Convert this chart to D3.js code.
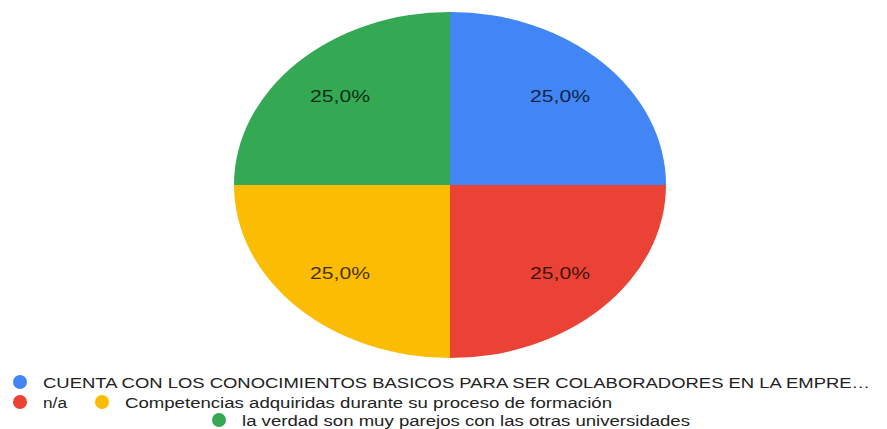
<!DOCTYPE html>
<html>
  <head>
    <style>
      html, body {
        padding: 0;
        margin: 0;
        overflow: hidden;
        background: #ffffff;
      }
      svg {
        display: block;
        font-family: "Liberation Sans", Arial, sans-serif;
      }
      .slice-label {
        font-size: 17px;
        fill: #000000;
        fill-opacity: 0.75;
      }
      .legend-text {
        font-size: 15.5px;
        fill: #222222;
      }
    </style>
  </head>
  <body>
    <div id="chart"></div>
    <script src="https://cdnjs.cloudflare.com/ajax/libs/d3/7.8.5/d3.min.js"></script>
    <script>
      // data
      const categories = [
        'CUENTA CON LOS CONOCIMIENTOS BASICOS PARA SER COLABORADORES EN LA EMPRE\u2026',
        'n/a',
        'Competencias adquiridas durante su proceso de formación',
        'la verdad son muy parejos con las otras universidades'
      ]
      const values = [1, 1, 1, 1]
      const colors = ['#4285f4', '#ea4335', '#fbbc04', '#34a853']

      ;(() => {
        let width = 887
        let height = 429

        // the picture is stretched sideways, so the pie is an ellipse
        let cx = 450
        let cy = 185
        let ry = 173
        let rx = 216
        let sx = rx / ry

        let svg = d3.select('#chart')
          .append('svg')
          .attr('width', width)
          .attr('height', height)

        let total = d3.sum(values)
        let pie = d3.pie().sort(null).value(d => d)
        let arcs = pie(values)
        let arc = d3.arc().innerRadius(0).outerRadius(ry)
        let labelArc = d3.arc().innerRadius(ry * 0.72).outerRadius(ry * 0.72)

        let pieG = svg.append('g')
          .attr('transform', `translate(${cx},${cy}) scale(${sx},1)`)

        pieG.selectAll('path')
          .data(arcs)
          .enter().append('path')
          .attr('d', arc)
          .attr('fill', (d, i) => colors[i])

        let fmt = v => (v / total * 100).toFixed(1).replace('.', ',') + '%'

        svg.append('g')
          .attr('transform', `translate(${cx},${cy})`)
          .selectAll('text')
          .data(arcs)
          .enter().append('text')
          .attr('class', 'slice-label')
          .attr('x', d => labelArc.centroid(d)[0] * sx)
          .attr('y', d => labelArc.centroid(d)[1])
          .attr('text-anchor', 'middle')
          .attr('dominant-baseline', 'central')
          .attr('textLength', 60)
          .attr('lengthAdjust', 'spacingAndGlyphs')
          .text(d => fmt(d.value))

        // legend layout: one entry per category
        let legendPos = [
          { x: 20, y: 382, w: 827 },
          { x: 20, y: 402, w: 24 },
          { x: 102, y: 402, w: 487 },
          { x: 219, y: 420, w: 448 }
        ]

        let legend = svg.append('g')
          .selectAll('g')
          .data(categories)
          .enter().append('g')
          .attr('transform', (d, i) => `translate(${legendPos[i].x},${legendPos[i].y})`)

        legend.append('ellipse')
          .attr('rx', 7)
          .attr('ry', 7)
          .attr('fill', (d, i) => colors[i])

        legend.append('text')
          .attr('class', 'legend-text')
          .attr('x', 23)
          .attr('dominant-baseline', 'central')
          .attr('textLength', (d, i) => legendPos[i].w)
          .attr('lengthAdjust', 'spacingAndGlyphs')
          .text(d => d)
      })();
    </script>
  </body>
</html>
